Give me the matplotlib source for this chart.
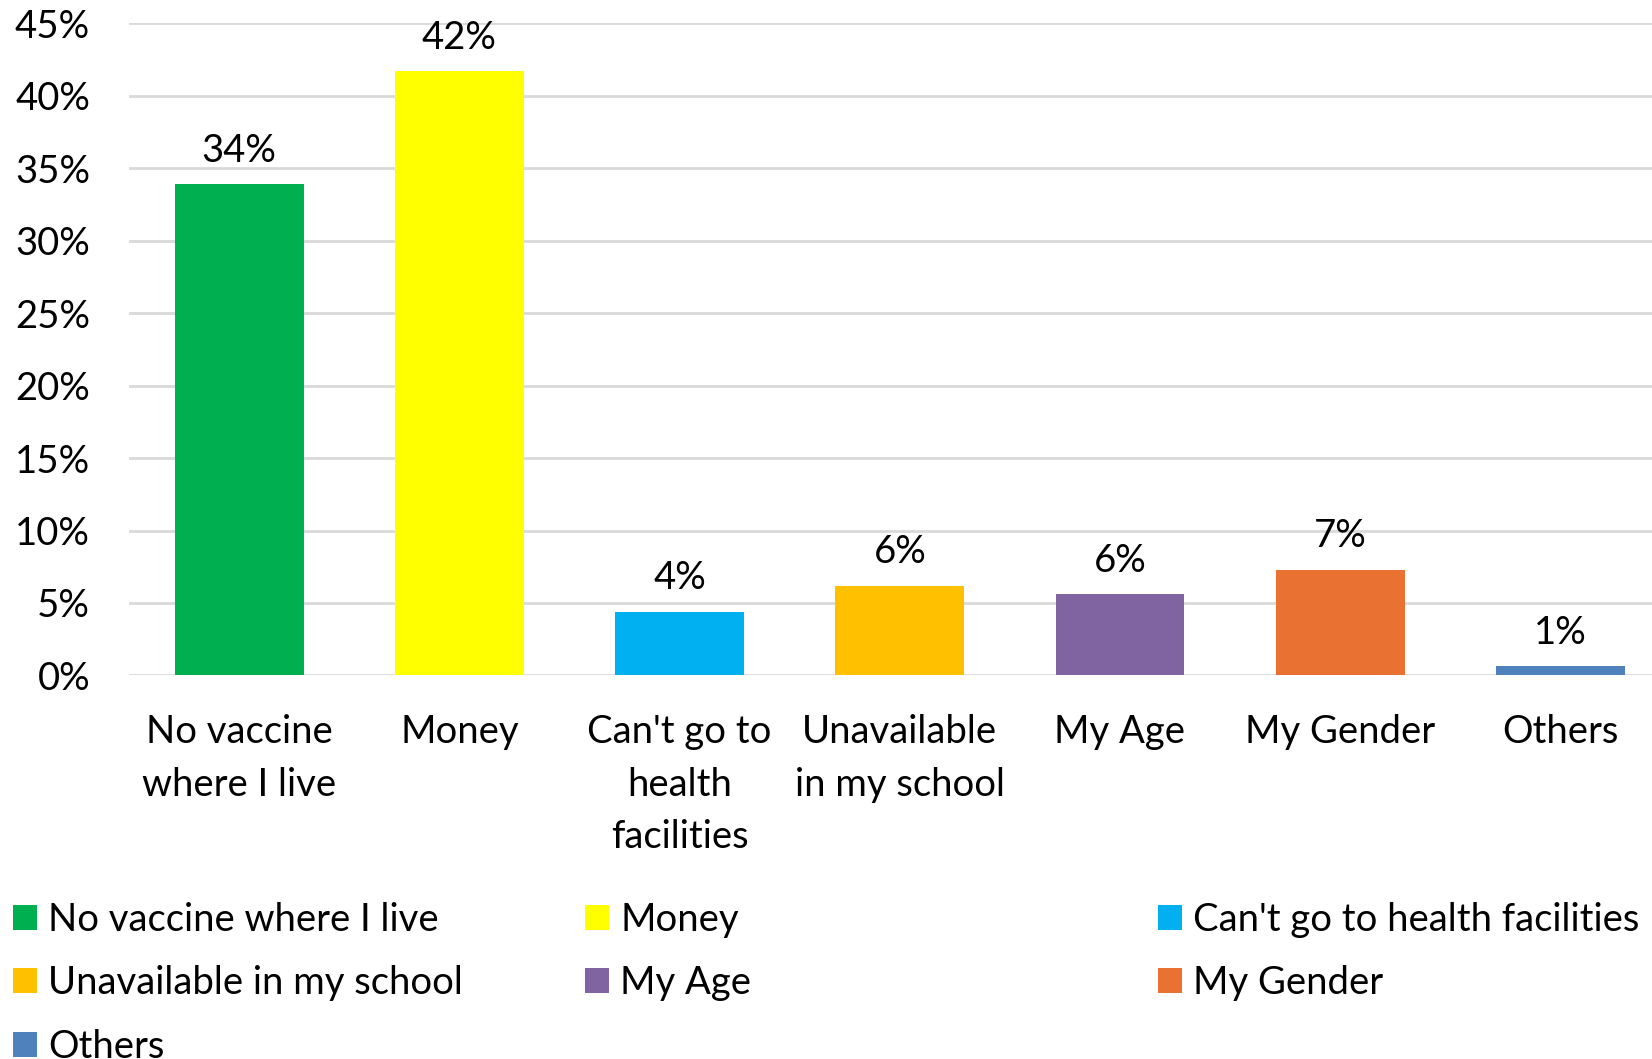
import matplotlib.pyplot as plt
from matplotlib.ticker import PercentFormatter

plt.rcParams['font.family'] = ['Lato', 'DejaVu Sans']

# Reasons given for not getting the vaccine (share of respondents)
categories = ["No vaccine where I live", "Money", "Can't go to health facilities",
              "Unavailable in my school", "My Age", "My Gender", "Others"]
tick_labels = ["No vaccine\nwhere I live", "Money", "Can't go to\nhealth\nfacilities",
               "Unavailable\nin my school", "My Age", "My Gender", "Others"]
shares = [33.9, 41.7, 4.4, 6.2, 5.6, 7.3, 0.65]
colors = ["#00B050", "#FFFF00", "#00B0F0", "#FFC000", "#8064A2", "#E97132", "#4F81BD"]

fs = 27.5
fig = plt.figure(figsize=(16.52, 10.59), dpi=100)
ax = fig.add_axes([0.0781, 0.3622, 0.9219, 0.6158])

x = range(len(categories))
bars = ax.bar(x, [v / 100 for v in shares], width=0.585, color=colors, zorder=3)

for b, v in zip(bars, shares):
    ax.annotate(f"{v:.0f}%", (b.get_x() + b.get_width() / 2, b.get_height()),
                xytext=(0, 11), textcoords='offset points',
                ha='center', va='bottom', fontsize=fs, color='black')

ax.set_ylim(0, 0.45)
ax.set_xlim(-0.5, 6.416)
ax.set_yticks([i * 0.05 for i in range(10)])
ax.yaxis.set_major_formatter(PercentFormatter(1.0, decimals=0))
ax.set_xticks(list(x))
ax.set_xticklabels(tick_labels, fontsize=fs, linespacing=1.56, va='top')
ax.tick_params(axis='y', length=0, pad=28, labelsize=fs)
ax.tick_params(axis='x', length=0, pad=28)
ax.grid(axis='y', color='#D9D9D9', linewidth=2, zorder=0)
for s in ax.spines.values():
    s.set_visible(False)

# Legend laid out in three evenly spaced columns
col_x = [12 / 1568, 555 / 1568, 1099 / 1568]
cols = [[0, 3, 6], [1, 4], [2, 5]]
for cx, idx in zip(col_x, cols):
    fig.legend([bars[i] for i in idx], [categories[i] for i in idx],
               loc='upper left', bbox_to_anchor=(cx, 0.148),
               frameon=False, fontsize=fs, handlelength=0.63, handleheight=0.63,
               handletextpad=0.3, labelspacing=0.71, borderpad=0, borderaxespad=0)

fig.savefig("out.png", dpi=100)
